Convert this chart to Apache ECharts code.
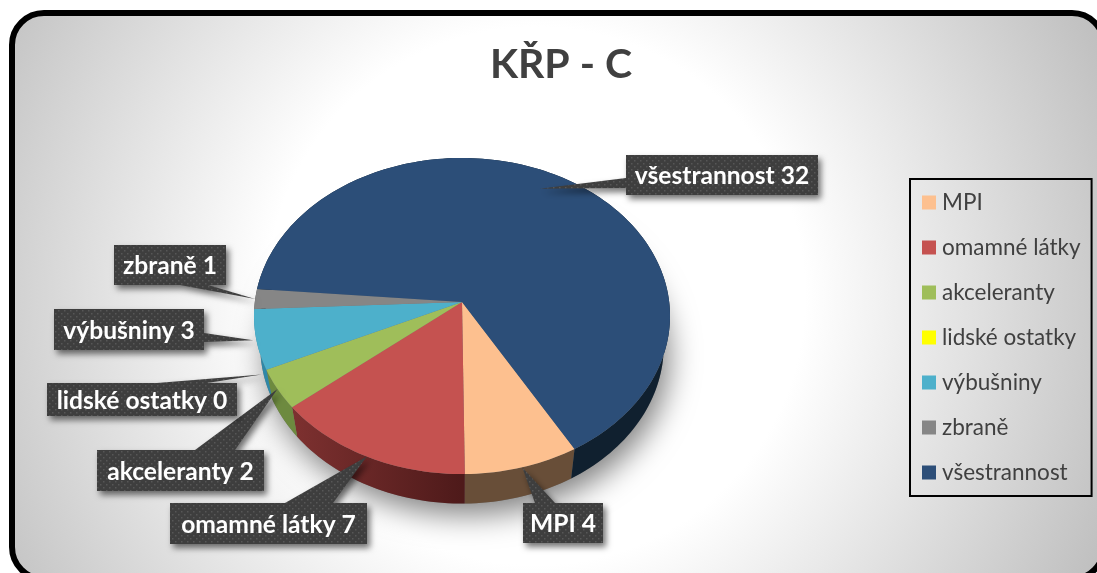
<!DOCTYPE html>
<html><head><meta charset="utf-8">
<style>html,body{margin:0;padding:0;background:#fff}#c{width:1097px;height:573px}</style>
<script src="https://cdn.jsdelivr.net/npm/echarts@6/dist/echarts.min.js"></script>
</head><body><div id="c"></div>
<script>
var categories = ['MPI','omamné látky','akceleranty','lidské ostatky','výbušniny','zbraně','všestrannost'];
var values = [4,7,2,0,3,1,32];
var topColors = ['#FDC08F','#C55250','#9FBE5A','#FFFF00','#4DB0CB','#868686','#2C4E78'];
var wallColors = ['#684E38',['#7E3130','#4E1A1A'],'#6D8A3F','#999900','#2E88A8','#555555','#10202F'];

// Perspective model of the tilted pie
var pie = {cx:462, cy:302, a:207.2, b:156.8, p:0.0886, depth:29.5, shrink:0.97, start:149.9};
function proj(deg, r){
  r = r===undefined ? 1 : r;
  var t = deg*Math.PI/180, u = Math.sin(t)*r, v = -Math.cos(t)*r, d = 1-pie.p*v;
  return [pie.cx+pie.a*u/d, pie.cy+pie.b*v/d];
}
function low(pt){ return [pie.cx+(pt[0]-pie.cx)*pie.shrink, pt[1]+pie.depth]; }
var total = values.reduce(function(s,v){return s+v;},0);
function sliceAngles(i){
  var s = 0; for(var k=0;k<i;k++) s+=values[k];
  return [pie.start+s/total*360, pie.start+(s+values[i])/total*360];
}
function rim(a0,a1){
  var n = Math.max(2,Math.ceil(Math.abs(a1-a0)/1.5)), out=[];
  for(var i=0;i<=n;i++) out.push(proj(a0+(a1-a0)*i/n));
  return out;
}
// callout layout: box [x,y,w,h], wedge base edge, base span, tip radius and angle shift
var callouts = [
 {box:[523,503,80,40], edge:'top',   base:[535,555], r:1,    shift:0},
 {box:[170,503,197,41],edge:'top',   base:[285,333], r:1,    shift:0},
 {box:[97,450,167,41], edge:'top',   base:[195,235], r:1,    shift:0},
 {box:[47,383,190,33], edge:'top',   base:[157,207], r:1.03, shift:-1},
 {box:[54,309,150,41], edge:'right', base:[333,342], r:1.015,shift:0},
 {box:[114,245,112,40],edge:'bottom',base:[180,208], r:1,    shift:0},
 {box:[626,155,192,40],edge:'left',  base:[178,188], r:0.868,shift:-5}
];
function calloutPoints(c,tip){
  var x=c.box[0],y=c.box[1],x2=x+c.box[2],y2=y+c.box[3],b=c.base;
  if(c.edge==='top') return [[x,y],[b[0],y],tip,[b[1],y],[x2,y],[x2,y2],[x,y2]];
  if(c.edge==='right') return [[x,y],[x2,y],[x2,b[0]],tip,[x2,b[1]],[x2,y2],[x,y2]];
  if(c.edge==='bottom') return [[x,y],[x2,y],[x2,y2],[b[1],y2],tip,[b[0],y2],[x,y2]];
  return [[x,y],[x2,y],[x2,y2],[x,y2],[x,b[1]],tip,[x,b[0]]];
}
var dot = document.createElement('canvas'); dot.width=6; dot.height=6;
(function(){var g=dot.getContext('2d');g.fillStyle='#3E3E3E';g.fillRect(0,0,6,6);
 g.fillStyle='#575757';g.fillRect(1,1,1.5,1.5);g.fillRect(4,4,1.5,1.5);})();

function renderSlice(params,api){
  var i=params.seriesIndex, val=api.value(0), ang=sliceAngles(i), kids=[];
  if(i===0){
    var whole=rim(0,360).map(low);
    kids.push({type:'polygon',silent:true,z2:0,shape:{points:whole},
      style:{fill:'#777',shadowColor:'rgba(0,0,0,0.5)',shadowBlur:30,shadowOffsetX:5,shadowOffsetY:11}});
  }
  if(val>0){
    var top=rim(ang[0],ang[1]);
    var wc=wallColors[i];
    var fill=Array.isArray(wc)?{type:'linear',global:true,x:290,y:0,x2:462,y2:0,
      colorStops:[{offset:0,color:wc[0]},{offset:1,color:wc[1]}]}:wc;
    kids.push({type:'polygon',silent:true,z2:1,
      shape:{points:top.concat(top.map(low).reverse())},style:{fill:fill}});
    kids.push({type:'polygon',silent:true,z2:2,
      shape:{points:[[pie.cx,pie.cy]].concat(top)},style:{fill:topColors[i]}});
  }
  var c=callouts[i], tip=proj((ang[0]+ang[1])/2+c.shift,c.r);
  kids.push({type:'polygon',silent:true,z2:10,shape:{points:calloutPoints(c,tip)},
    style:{fill:{image:dot,repeat:'repeat'},shadowColor:'rgba(0,0,0,0.55)',shadowBlur:6,shadowOffsetX:3,shadowOffsetY:4}});
  kids.push({type:'text',silent:true,z2:11,style:{text:categories[i]+' '+val,
    x:c.box[0]+c.box[2]/2,y:c.box[1]+c.box[3]/2+1.5,align:'center',verticalAlign:'middle',
    font:'bold 24.6px Lato',fill:'#fff'}});
  return {type:'group',children:kids};
}
var series = categories.map(function(n,i){
  return {type:'custom',name:n,coordinateSystem:'none',renderItem:renderSlice,
    data:[[values[i]]],itemStyle:{color:topColors[i]},animation:false,silent:true};
});
var chart = echarts.init(document.getElementById('c'),null,{renderer:'canvas'});
chart.setOption({
  animation:false,
  graphic:[{type:'rect',silent:true,z:0,shape:{x:12,y:13,width:1092,height:566,r:32},
    style:{stroke:'#000',lineWidth:6,fill:{type:'radial',x:0.48,y:0.5,r:1.12,
      colorStops:[{offset:0,color:'#fff'},{offset:0.42,color:'#fff'},{offset:1,color:'#bcbcbc'}]}}}],
  title:{text:'KŘP - C',left:556,top:39,textAlign:'center',
    textStyle:{fontFamily:'Lato',fontWeight:'bold',fontSize:41,color:'#404040'}},
  legend:{orient:'vertical',left:910,top:179,padding:[12,11,12,12],itemWidth:14,itemHeight:14,itemGap:22,
    icon:'rect',borderColor:'#000',borderWidth:2,data:categories,selectedMode:false,
    textStyle:{fontFamily:'Lato',fontSize:22.5,lineHeight:23,color:'#404040',padding:[0,0,0,1]}},
  tooltip:{show:false},
  series:series
});
</script></body></html>
